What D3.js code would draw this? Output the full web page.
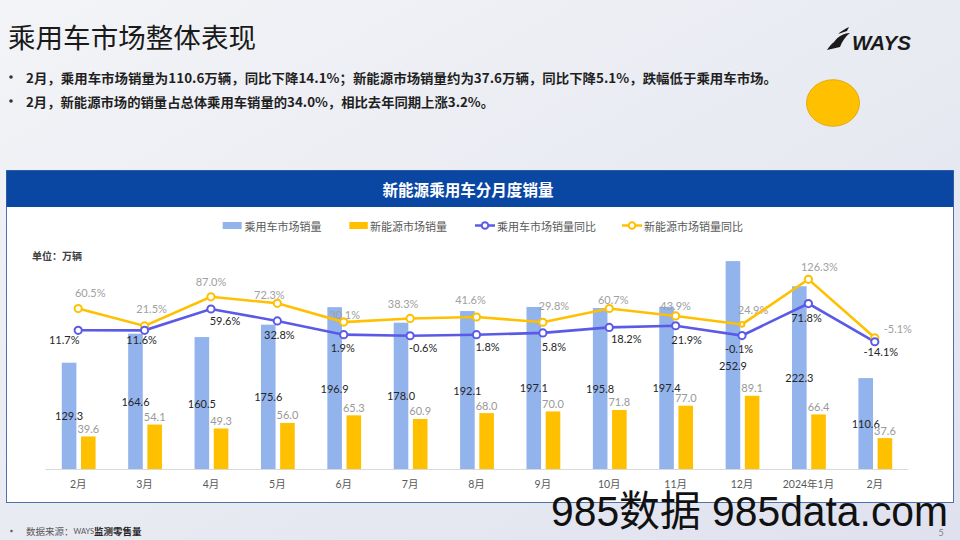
<!DOCTYPE html>
<html><head><meta charset="utf-8">
<script src="https://cdn.jsdelivr.net/npm/d3@7"></script>
<style>
html,body{margin:0;padding:0;width:960px;height:540px;overflow:hidden;}
svg{display:block;}
</style></head>
<body>
<svg id="c" width="960" height="540"></svg>
<script>
// ---------- data ----------
const months = ['2月','3月','4月','5月','6月','7月','8月','9月','10月','11月','12月','2024年1月','2月'];
const pvSales  = [129.3,164.6,160.5,175.6,196.9,178.0,192.1,197.1,195.8,197.4,252.9,222.3,110.6];
const nevSales = [39.6,54.1,49.3,56.0,65.3,60.9,68.0,70.0,71.8,77.0,89.1,66.4,37.6];
const pvYoY    = [11.7,11.6,59.6,32.8,1.9,-0.6,1.8,5.8,18.2,21.9,-0.1,71.8,-14.1];
const nevYoY   = [60.5,21.5,87.0,72.3,30.1,38.3,41.6,29.8,60.7,43.9,24.9,126.3,-5.1];
const seriesNames = ['乘用车市场销量','新能源市场销量','乘用车市场销量同比','新能源市场销量同比'];
const pageTitle = '乘用车市场整体表现';
const bullets = ['2月，乘用车市场销量为110.6万辆，同比下降14.1%；新能源市场销量约为37.6万辆，同比下降5.1%，跌幅低于乘用车市场。',
                 '2月，新能源市场的销量占总体乘用车销量的34.0%，相比去年同期上涨3.2%。'];
const chartTitle = '新能源乘用车分月度销量';
const unitLabel = '单位：万辆';

// ---------- layout ----------
const CJK = "'Noto Sans CJK SC', sans-serif";
const NUM = "Lato, 'Noto Sans CJK SC', sans-serif";
const C_PV = '#93b3ec', C_NEV = '#ffc000', C_PVL = '#5a5ae6', C_NEVL = '#ffc000';
// label nudges (dx, dy of text centre relative to point)
const nevLblOff = [[12,-16],[7,-17],[0,-15],[-8,-9],[1,-8],[-7,-15],[-6,-17],[11,-17],[4,-9],[0,-10],[11,-15],[11,-13],[23,-9]];
const pvLblOff  = [[-14,9],[-3,9],[14,12],[2,14],[-1,13],[13,12],[11,12],[11,14],[17,11],[11,14],[-3,13],[-2,14],[6,10]];

const svg = d3.select('#c');
const defs = svg.append('defs');
const g1 = defs.append('linearGradient').attr('id','bg').attr('x1','0').attr('y1','0').attr('x2','1').attr('y2','1');
g1.append('stop').attr('offset','0').attr('stop-color','#f3f4f7');
g1.append('stop').attr('offset','1').attr('stop-color','#dfe2ee');
svg.append('rect').attr('width',960).attr('height',540).attr('fill','url(#bg)');

// page title
svg.append('text').attr('x',8).attr('y',48).text(pageTitle)
  .attr('font-family',CJK).attr('font-size',27).attr('fill','#1a1a1a')
  .attr('textLength',248).attr('lengthAdjust','spacingAndGlyphs');

// bullets
const bulletY = [77,101], bulletW = [751,468];
bullets.forEach((t,i)=>{
  svg.append('circle').attr('cx',11).attr('cy',bulletY[i]).attr('r',1.8).attr('fill','#333');
  svg.append('text').attr('x',26).attr('y',bulletY[i]).attr('dominant-baseline','central')
    .text(t).attr('font-family',CJK).attr('font-size',13).attr('font-weight','bold').attr('fill','#1f1f1f')
    .attr('textLength',bulletW[i]).attr('lengthAdjust','spacingAndGlyphs');
});

// logo
const logo = svg.append('g');
logo.append('path').attr('d','M834,42 C838,36 845,33 850,33 C846,36 842,41 840,47 L827,50 C829,47 831,44 834,42 Z').attr('fill','#1a1a1a');
logo.append('path').attr('d','M838,34 C841,31 845,29 849,27 L847,31 C844,32 841,33 838,34 Z').attr('fill','#1a1a1a');
logo.append('text').attr('x',852).attr('y',49.5).text('WAYS')
  .attr('font-family','"Liberation Sans", Arial, sans-serif').attr('font-weight','bold').attr('font-style','italic')
  .attr('font-size',21).attr('fill','#1a1a1a').attr('textLength',59).attr('lengthAdjust','spacingAndGlyphs');

// yellow ellipse
svg.append('ellipse').attr('cx',833).attr('cy',103).attr('rx',26.5).attr('ry',23.3)
  .attr('fill','#ffc000').attr('stroke','#d9a300').attr('stroke-width',0.8);

// panel
svg.append('rect').attr('x',6.5).attr('y',170.5).attr('width',947).attr('height',332)
  .attr('fill','#ffffff').attr('stroke','#4f72a8').attr('stroke-width',1);
svg.append('rect').attr('x',6.5).attr('y',170.5).attr('width',947).attr('height',36.5).attr('fill','#0a47a3');
svg.append('text').attr('x',468).attr('y',189).attr('text-anchor','middle').attr('dominant-baseline','central')
  .text(chartTitle).attr('font-family',CJK).attr('font-size',16).attr('font-weight','bold').attr('fill','#ffffff')
  .attr('textLength',171).attr('lengthAdjust','spacingAndGlyphs');

// legend
const legY = 225.5;
const leg = svg.append('g').attr('font-family',CJK).attr('font-size',11).attr('fill','#595959');
leg.append('rect').attr('x',222.7).attr('y',legY-3.5).attr('width',19).attr('height',7).attr('fill',C_PV);
leg.append('text').attr('x',244.5).attr('y',legY).attr('dominant-baseline','central').text(seriesNames[0]);
leg.append('rect').attr('x',349.3).attr('y',legY-3.5).attr('width',18.5).attr('height',7).attr('fill',C_NEV);
leg.append('text').attr('x',370).attr('y',legY).attr('dominant-baseline','central').text(seriesNames[1]);
[[475,C_PVL,seriesNames[2]],[622,C_NEVL,seriesNames[3]]].forEach(([x,c,t])=>{
  leg.append('line').attr('x1',x).attr('x2',x+20).attr('y1',legY).attr('y2',legY).attr('stroke',c).attr('stroke-width',2.5);
  leg.append('circle').attr('cx',x+10).attr('cy',legY).attr('r',3.3).attr('fill','#fff').attr('stroke',c).attr('stroke-width',2);
  leg.append('text').attr('x',x+22).attr('y',legY).attr('dominant-baseline','central').text(t);
});

// unit
svg.append('text').attr('x',32).attr('y',255.5).attr('dominant-baseline','central').text(unitLabel)
  .attr('font-family',CJK).attr('font-size',10).attr('font-weight','bold').attr('fill','#404040');

// scales
const idx = months.map((_,i)=>i);
const x = d3.scaleBand().domain(idx).range([45,908]).padding(0);
const y = d3.scaleLinear().domain([0,300]).range([469,222.4]);
const y2 = d3.scaleLinear().domain([-300,300]).range([469,202]);
const cx = i => x(i)+x.bandwidth()/2;
const bw = 14.6;

// axis
const axis = svg.append('g').attr('transform','translate(0,469)').call(d3.axisBottom(x).tickSize(0).tickPadding(12).tickFormat(i=>months[i]));
axis.select('.domain').attr('stroke','#d9d9d9').attr('stroke-width',1.2);
axis.selectAll('text').attr('font-family',NUM).attr('font-size',10.5).attr('fill','#595959');

// bars
const bars = svg.append('g');
bars.selectAll('.pv').data(pvSales).join('rect').attr('class','pv')
  .attr('x',(d,i)=>cx(i)-16.4).attr('width',bw).attr('y',d=>y(d)).attr('height',d=>y(0)-y(d)).attr('fill',C_PV);
bars.selectAll('.nev').data(nevSales).join('rect').attr('class','nev')
  .attr('x',(d,i)=>cx(i)+2.8).attr('width',bw).attr('y',d=>y(d)).attr('height',d=>y(0)-y(d)).attr('fill',C_NEV);

// bar labels
const lbl = svg.append('g').attr('font-family',NUM).attr('font-size',11).attr('text-anchor','middle').attr('dominant-baseline','central');
lbl.selectAll('.pvl').data(pvSales).join('text').attr('class','pvl')
  .attr('x',(d,i)=>cx(i)-16.4+bw/2).attr('y',d=>(y(d)+y(0))/2).attr('fill','#262626').text(d=>d.toFixed(1));
lbl.selectAll('.nevl').data(nevSales).join('text').attr('class','nevl')
  .attr('x',(d,i)=>cx(i)+2.8+bw/2).attr('y',d=>y(d)-8).attr('fill','#999999').text(d=>d.toFixed(1));

// lines
const line = d3.line().x((d,i)=>cx(i)).y(d=>y2(d));
svg.append('path').datum(nevYoY).attr('d',line).attr('fill','none').attr('stroke',C_NEVL).attr('stroke-width',2.6);
svg.append('path').datum(pvYoY).attr('d',line).attr('fill','none').attr('stroke',C_PVL).attr('stroke-width',2.6);
svg.append('g').selectAll('circle').data(nevYoY).join('circle')
  .attr('cx',(d,i)=>cx(i)).attr('cy',d=>y2(d)).attr('r',(d,i)=>i===10?2.3:3.6).attr('fill','#fff').attr('stroke',C_NEVL).attr('stroke-width',2);
svg.append('g').selectAll('circle').data(pvYoY).join('circle')
  .attr('cx',(d,i)=>cx(i)).attr('cy',d=>y2(d)).attr('r',3.6).attr('fill','#fff').attr('stroke',C_PVL).attr('stroke-width',2);

// line labels
lbl.selectAll('.nyl').data(nevYoY).join('text').attr('class','nyl')
  .attr('x',(d,i)=>cx(i)+nevLblOff[i][0]).attr('y',(d,i)=>y2(d)+nevLblOff[i][1]).attr('fill','#a0a0a0').text(d=>d.toFixed(1)+'%');
lbl.selectAll('.pyl').data(pvYoY).join('text').attr('class','pyl')
  .attr('x',(d,i)=>cx(i)+pvLblOff[i][0]).attr('y',(d,i)=>y2(d)+pvLblOff[i][1]).attr('fill','#262626').text(d=>d.toFixed(1)+'%');

// footnote
svg.append('circle').attr('cx',11.5).attr('cy',531).attr('r',1.3).attr('fill','#666');
const fn = svg.append('text').attr('x',26).attr('y',531).attr('dominant-baseline','central').attr('font-family',CJK).attr('font-size',9.5);
fn.append('tspan').attr('fill','#595959').text('数据来源：');
fn.append('tspan').attr('fill','#595959').attr('font-size',7.5).attr('font-family',NUM).text('WAYS');
fn.append('tspan').attr('fill','#262626').attr('font-weight','bold').text('监测零售量');
svg.append('text').attr('x',941).attr('y',532).attr('dominant-baseline','central').attr('text-anchor','middle')
  .attr('font-family',NUM).attr('font-size',9).attr('fill','#7f7f7f').text('5');

// watermark
svg.append('text').attr('x',551).attr('y',526).text('985数据 985data.com')
  .attr('font-family',"'Liberation Sans', 'Noto Sans CJK SC', sans-serif").attr('font-size',42).attr('fill','#111')
  .attr('textLength',397).attr('lengthAdjust','spacingAndGlyphs');
</script>
</body></html>
